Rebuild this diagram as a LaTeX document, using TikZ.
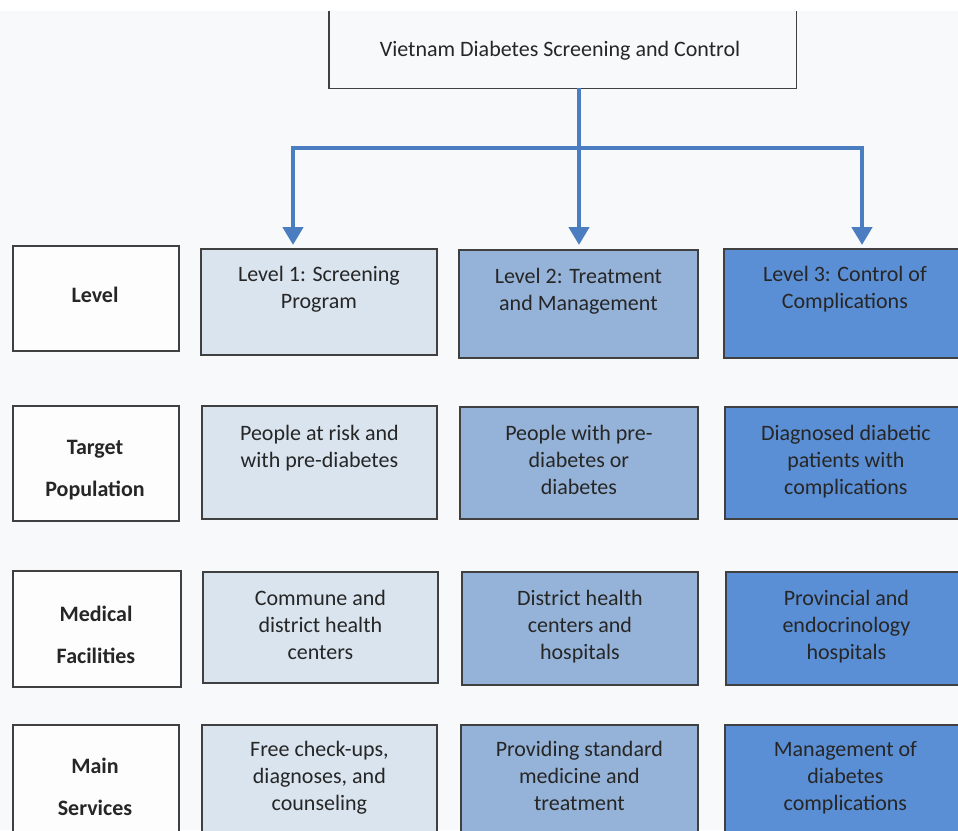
\documentclass[tikz,border=0pt]{standalone}
\usepackage{fontspec}
\setmainfont{Carlito}
\usetikzlibrary{arrows.meta,calc}

\definecolor{pagebg}{HTML}{F8F9FB}
\definecolor{labelfill}{HTML}{FDFDFE}
\definecolor{lvlone}{HTML}{D9E4EE}
\definecolor{lvltwo}{HTML}{95B3D8}
\definecolor{lvlthree}{HTML}{5B8FD5}
\definecolor{flowblue}{HTML}{4A7EC1}
\definecolor{edgegray}{HTML}{404040}
\definecolor{inkgray}{HTML}{262626}

\tikzset{
  cell/.style={draw=edgegray, line width=1.8pt, anchor=north west, inner sep=0pt},
  celltext/.style={anchor=north, inner sep=0pt, align=center, text=inkgray,
                   font=\fontsize{22}{27}\selectfont},
  rowlabel/.style={inner sep=0pt, align=center, text=inkgray,
                   font=\fontsize{22}{42}\selectfont\bfseries},
  flow/.style={draw=flowblue, line width=4.5pt,
               -{Triangle[width=20pt,length=18pt]}},
  flowline/.style={draw=flowblue, line width=4.5pt}
}

\begin{document}
\begin{tikzpicture}[x=1pt,y=-1pt]
  \useasboundingbox (0,0) rectangle (958,830);
  \clip (0,0) rectangle (958,830);
  \fill[pagebg] (0,0) rectangle (958,830);
  \fill[white] (0,0) rectangle (958,11);

  % title box (its upper edge runs off the page)
  \node[inner sep=0pt, minimum width=467pt, minimum height=77pt, anchor=north west,
        fill=pagebg] (title) at (329,11) {};
  \draw[edgegray, line width=1.8pt]
    (title.north west) -- (title.south west) -- (title.south east) -- (title.north east);
  \node[text=inkgray, font=\fontsize{22}{27}\selectfont, inner sep=0pt]
    (titletext) at (560,51) {Vietnam Diabetes Screening and Control};

  % row labels
  \node[cell, fill=labelfill, minimum width=166pt, minimum height=105pt] (labA) at (12,245) {};
  \node[cell, fill=labelfill, minimum width=166pt, minimum height=115pt] (labB) at (12,405) {};
  \node[cell, fill=labelfill, minimum width=168pt, minimum height=116pt] (labC) at (12,570) {};
  \node[cell, fill=labelfill, minimum width=166pt, minimum height=130pt] (labD) at (12,724) {};
  \node[rowlabel] (labAt) at (95,295) {Level};
  \node[rowlabel] (labBt) at (95,470) {Target\\Population};
  \node[rowlabel] (labCt) at (96,635) {Medical\\Facilities};
  \node[rowlabel] (labDt) at (95,787) {Main\\Services};

  % level 1 column
  \node[cell, fill=lvlone, minimum width=236pt, minimum height=106pt] (a1) at (200,248) {};
  \node[cell, fill=lvlone, minimum width=235pt, minimum height=113pt] (b1) at (201,405) {};
  \node[cell, fill=lvlone, minimum width=235pt, minimum height=111pt] (c1) at (202,571) {};
  \node[cell, fill=lvlone, minimum width=235pt, minimum height=130pt] (d1) at (201,724) {};
  \node[celltext] (a1t) at ($(a1.north)+(0,18)$) {Level 1: Screening\\Program};
  \node[celltext] (b1t) at ($(b1.north)+(0,20)$) {People at risk and\\with pre-diabetes};
  \node[celltext] (c1t) at ($(c1.north)+(0,19)$) {Commune and\\district health\\centers};
  \node[celltext] (d1t) at ($(d1.north)+(0,17)$) {Free check-ups,\\diagnoses, and\\counseling};

  % level 2 column
  \node[cell, fill=lvltwo, minimum width=239pt, minimum height=108pt] (a2) at (458,249) {};
  \node[cell, fill=lvltwo, minimum width=238pt, minimum height=112pt] (b2) at (459,406) {};
  \node[cell, fill=lvltwo, minimum width=236pt, minimum height=113pt] (c2) at (461,571) {};
  \node[cell, fill=lvltwo, minimum width=237pt, minimum height=130pt] (d2) at (460,724) {};
  \node[celltext] (a2t) at ($(a2.north)+(0,19)$) {Level 2: Treatment\\and Management};
  \node[celltext] (b2t) at ($(b2.north)+(0,19)$) {People with pre-\\diabetes or\\diabetes};
  \node[celltext] (c2t) at ($(c2.north)+(0,19)$) {District health\\centers and\\hospitals};
  \node[celltext] (d2t) at ($(d2.north)+(0,17)$) {Providing standard\\medicine and\\treatment};

  % level 3 column (runs past the right edge)
  \node[cell, fill=lvlthree, minimum width=242pt, minimum height=109pt] (a3) at (723,248) {};
  \node[cell, fill=lvlthree, minimum width=242pt, minimum height=112pt] (b3) at (724,406) {};
  \node[cell, fill=lvlthree, minimum width=241pt, minimum height=113pt] (c3) at (725,571) {};
  \node[cell, fill=lvlthree, minimum width=241pt, minimum height=130pt] (d3) at (724,724) {};
  \node[celltext] (a3t) at ($(a3.north)+(0,18)$) {Level 3: Control of\\Complications};
  \node[celltext] (b3t) at ($(b3.north)+(0,19)$) {Diagnosed diabetic\\patients with\\complications};
  \node[celltext] (c3t) at ($(c3.north)+(0,19)$) {Provincial and\\endocrinology\\hospitals};
  \node[celltext] (d3t) at ($(d3.north)+(0,17)$) {Management of\\diabetes\\complications};

  % branching arrows
  \coordinate (hub)   at (579,148);
  \coordinate (leftk) at (293,148);
  \coordinate (rightk) at (862,148);
  \coordinate (tipA)  at (293,245);
  \coordinate (tipB)  at (579,245);
  \coordinate (tipC)  at (862,245);
  \coordinate (stem)  at (579,88);
  \draw[flowline] (stem) -- (hub);
  \draw[flowline] (leftk) -- (rightk);
  \draw[flow] (hub) -- (tipB);
  \draw[flow] ([yshift=2.25pt]leftk) -- (tipA);
  \draw[flow] ([yshift=2.25pt]rightk) -- (tipC);
\end{tikzpicture}
\end{document}
